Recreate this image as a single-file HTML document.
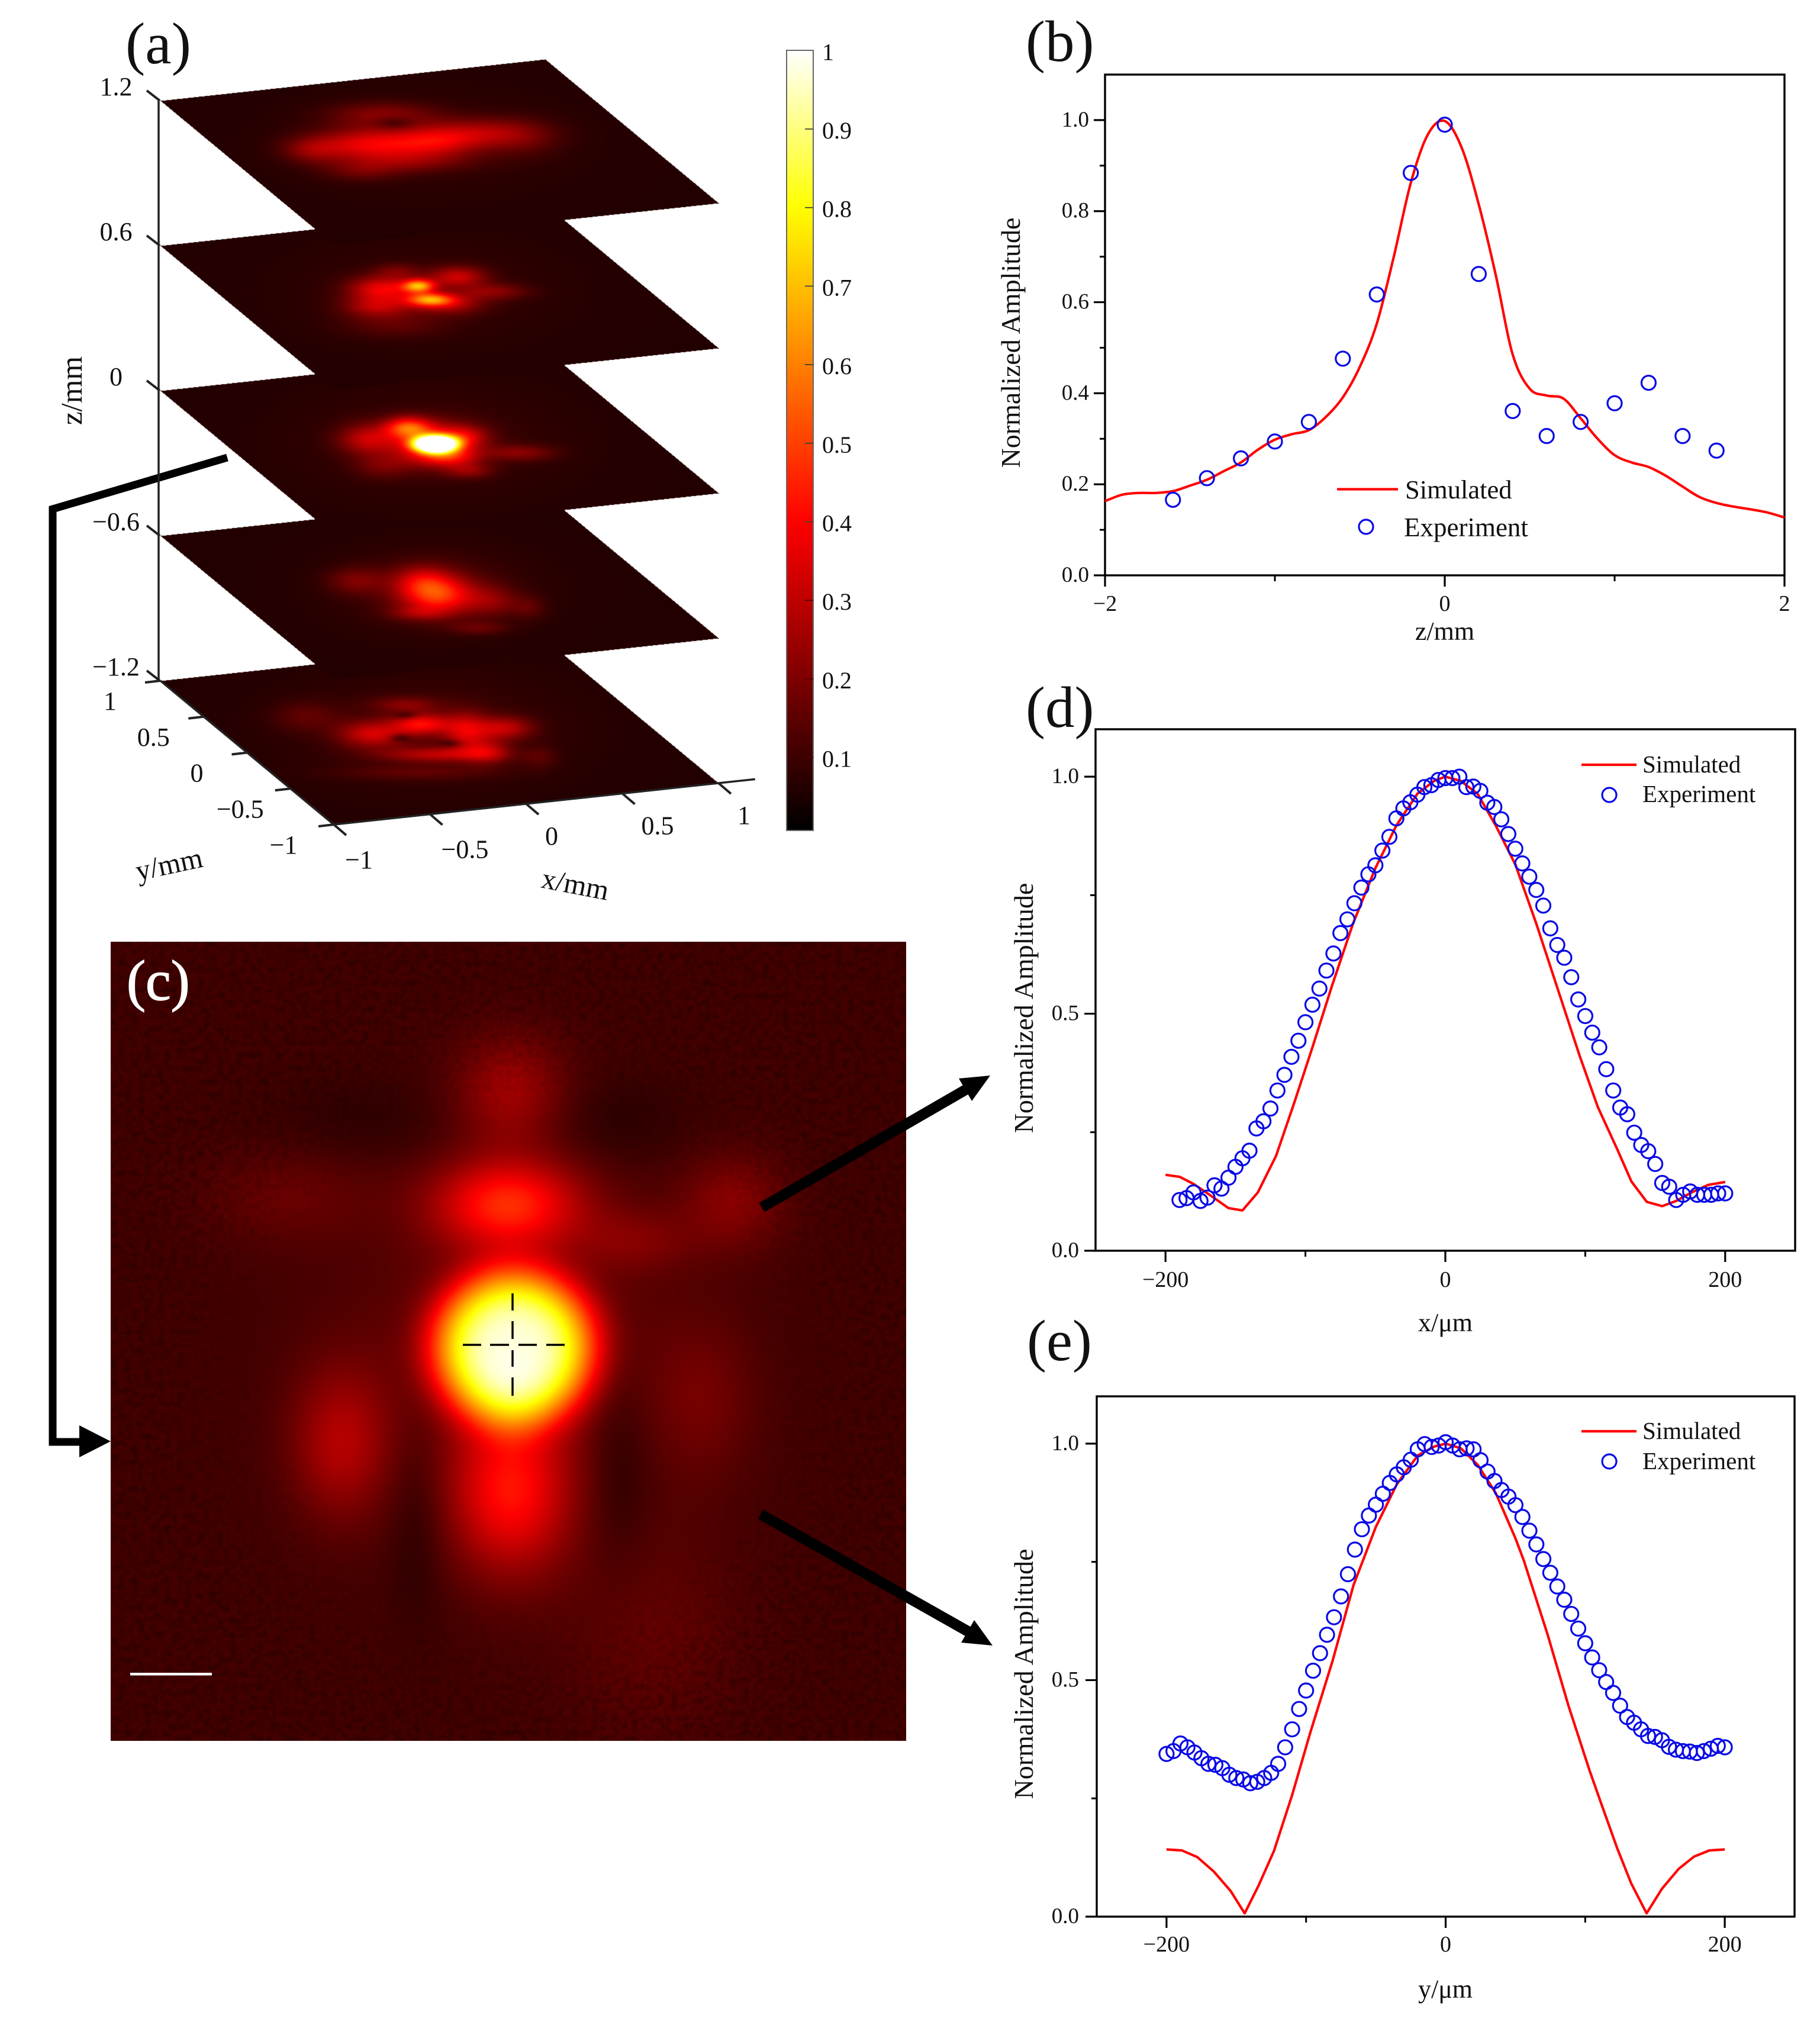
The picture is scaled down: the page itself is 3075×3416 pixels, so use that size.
<!DOCTYPE html>
<html lang="en">
<head>
<meta charset="utf-8">
<title>Focused beam amplitude profiles</title>
<style>
html,body{margin:0;padding:0;background:#fff;}
#figure{position:relative;width:3075px;height:3416px;overflow:hidden;background:#fff;font-family:"Liberation Serif",serif;}
canvas{position:absolute;display:block;}
#overlay{position:absolute;left:0;top:0;}
text{font-family:"Liberation Serif",serif;fill:#111;}
</style>
</head>
<body>
<div id="figure">
<canvas id="focal-map" width="672" height="675" style="left:187px;top:1591px;width:1344px;height:1350px"></canvas>
<div id="slices"></div>
<svg id="overlay" xmlns="http://www.w3.org/2000/svg" width="3075" height="3416" viewBox="0 0 3075 3416">
<defs>
<linearGradient id="cbar-grad" x1="0" y1="0" x2="0" y2="1">
<stop offset="0" stop-color="#ffffff"/>
<stop offset="0.201" stop-color="#ffff00"/>
<stop offset="0.604" stop-color="#ff0000"/>
<stop offset="1" stop-color="#000000"/>
</linearGradient>
<filter id="grain" x="0" y="0" width="1" height="1" color-interpolation-filters="sRGB">
<feTurbulence type="fractalNoise" baseFrequency="0.09" numOctaves="2" seed="4"/>
<feColorMatrix type="matrix" values="0 0 0 0 0  0 0 0 0 0  0 0 0 0 0  2.6 0 0 0 -1.05"/>
</filter>
<radialGradient id="grain-fade" gradientUnits="userSpaceOnUse" cx="868" cy="2300" r="700">
<stop offset="0.55" stop-color="#000"/>
<stop offset="0.9" stop-color="#fff"/>
</radialGradient>
<mask id="grain-mask" maskUnits="userSpaceOnUse" x="187" y="1591" width="1344" height="1350">
<rect x="187" y="1591" width="1344" height="1350" fill="url(#grain-fade)"/>
</mask>
</defs>

<g mask="url(#grain-mask)">
<rect x="187" y="1591" width="1344" height="1350" filter="url(#grain)" opacity="0.3"/>
</g>

<g>
<text x="212" y="107" font-size="100">(a)</text>
<text x="1733" y="103" font-size="99">(b)</text>
<text x="214" y="1689" font-size="96" stroke="#fff" stroke-width="1.5" style="fill:#fff">(c)</text>
<text x="1733" y="1228" font-size="99">(d)</text>
<text x="1735" y="2298" font-size="99">(e)</text>
</g>

<g stroke="#000" stroke-width="3.5">
<path d="M782 2272H813M828 2272H860M876 2272H907M923 2272H954"/>
<path d="M866 2185V2214M866 2232V2262M866 2281V2309M866 2327V2358"/>
</g>
<rect x="220" y="2826" width="138" height="4.5" fill="#fff"/>

<g>
<polyline points="384,773 89,860 89,2436 140,2436" fill="none" stroke="#000" stroke-width="13" stroke-linejoin="miter"/>
<polygon points="134,2408 187,2435 134,2462" fill="#000"/>
<line x1="1287" y1="2040" x2="1635" y2="1839" stroke="#000" stroke-width="18"/>
<polygon points="1673,1817 1642,1860 1620,1822" fill="#000"/>
<line x1="1285" y1="2558" x2="1637" y2="2757" stroke="#000" stroke-width="18"/>
<polygon points="1677,2780 1624,2775 1646,2737" fill="#000"/>
</g>

<g>
<rect x="1329" y="85" width="45" height="1318" fill="url(#cbar-grad)" stroke="#666" stroke-width="2"/>
<g id="cbar-axis"></g>
</g>

<g id="axes3d"></g>
<text transform="translate(138,660) rotate(-90)" text-anchor="middle" font-size="51">z/mm</text>
<text transform="translate(289,1476) rotate(-12)" text-anchor="middle" font-size="49">y/mm</text>
<text transform="translate(969,1510) rotate(11)" text-anchor="middle" font-size="49">x/mm</text>

<g id="panel-b"></g>
<g>
<line x1="2259" y1="826.5" x2="2362" y2="826.5" stroke="#f00" stroke-width="4.2"/>
<text x="2374" y="842" font-size="44.5">Simulated</text>
<circle cx="2308" cy="890" r="12" fill="none" stroke="#0a0ae6" stroke-width="3.2"/>
<text x="2372" y="906" font-size="45">Experiment</text>
</g>
<text x="2441" y="1081" text-anchor="middle" font-size="44">z/mm</text>
<text transform="translate(1723,579) rotate(-90)" text-anchor="middle" font-size="46">Normalized Amplitude</text>

<g id="panel-d"></g>
<g>
<line x1="2672" y1="1292" x2="2765" y2="1292" stroke="#f00" stroke-width="4.2"/>
<text x="2775" y="1305" font-size="41">Simulated</text>
<circle cx="2719" cy="1343" r="12" fill="none" stroke="#0a0ae6" stroke-width="3.2"/>
<text x="2775" y="1355" font-size="41">Experiment</text>
</g>
<text x="2442" y="2249" text-anchor="middle" font-size="44">x/μm</text>
<text transform="translate(1745,1703) rotate(-90)" text-anchor="middle" font-size="46">Normalized Amplitude</text>

<g id="panel-e"></g>
<g>
<line x1="2672" y1="2418" x2="2765" y2="2418" stroke="#f00" stroke-width="4.2"/>
<text x="2775" y="2431" font-size="41">Simulated</text>
<circle cx="2719" cy="2469" r="12" fill="none" stroke="#0a0ae6" stroke-width="3.2"/>
<text x="2775" y="2482" font-size="41">Experiment</text>
</g>
<text x="2442" y="3375" text-anchor="middle" font-size="44">y/μm</text>
<text transform="translate(1745,2828) rotate(-90)" text-anchor="middle" font-size="46">Normalized Amplitude</text>
</svg>
</div>

<script>
/* ---------- panel (b): amplitude vs z ---------- */
const bSimZ = [-2,-1.9,-1.8,-1.7,-1.6,-1.5,-1.4,-1.3,-1.2,-1.1,-1,-0.9,-0.8,-0.7,-0.6,-0.5,-0.4,-0.3,-0.2,-0.1,0,0.1,0.2,0.3,0.4,0.5,0.6,0.7,0.8,0.9,1,1.1,1.2,1.3,1.4,1.5,1.6,1.7,1.8,1.9,2];
const bSimAmp = [0.163,0.177,0.181,0.181,0.185,0.197,0.21,0.229,0.248,0.276,0.298,0.31,0.319,0.348,0.391,0.458,0.553,0.70,0.862,0.968,0.998,0.939,0.815,0.66,0.485,0.41,0.395,0.388,0.345,0.30,0.264,0.248,0.238,0.219,0.195,0.172,0.159,0.151,0.145,0.138,0.127];
const bExpZ = [-1.6,-1.4,-1.2,-1,-0.8,-0.6,-0.4,-0.2,0,0.2,0.4,0.6,0.8,1,1.2,1.4,1.6];
const bExpAmp = [0.166,0.2135,0.257,0.294,0.337,0.476,0.617,0.884,0.99,0.662,0.361,0.306,0.337,0.378,0.423,0.306,0.274];
const bXMajor = [-2,0,2];
const bXMinor = [-1,1];
const bXLabels = ['−2','0','2'];
const bYMajor = [0,0.2,0.4,0.6,0.8,1];
const bYMinor = [0.1,0.3,0.5,0.7,0.9];
const bYLabels = ['0.0','0.2','0.4','0.6','0.8','1.0'];

/* ---------- panel (d): amplitude vs x ---------- */
const dSimX = [-200,-190,-180,-169,-155,-145,-134,-121,-108,-95,-81,-66,-50,-35,-20,-8,0,11,23,36,50,65,80,96,109,123,133,144,155,165,176,188,200];
const dSimAmp = [0.16,0.156,0.141,0.119,0.09,0.085,0.123,0.2,0.312,0.429,0.559,0.69,0.807,0.897,0.964,0.991,1,0.991,0.964,0.897,0.815,0.69,0.555,0.411,0.303,0.213,0.146,0.103,0.094,0.105,0.123,0.139,0.145];
const dExpX = [-190,-185,-180,-175,-170,-165,-160,-155,-150,-145,-140,-135,-130,-125,-120,-115,-110,-105,-100,-95,-90,-85,-80,-75,-70,-65,-60,-55,-50,-45,-40,-35,-30,-25,-20,-15,-10,-5,0,5,10,15,20,25,30,35,40,45,50,55,60,65,70,75,80,85,90,95,100,105,110,115,120,125,130,135,140,145,150,155,160,165,170,175,180,185,190,195,200];
const dExpAmp = [0.107,0.111,0.123,0.105,0.112,0.138,0.131,0.154,0.177,0.195,0.211,0.258,0.273,0.300,0.338,0.371,0.409,0.443,0.482,0.519,0.553,0.591,0.627,0.670,0.699,0.733,0.766,0.794,0.813,0.844,0.873,0.912,0.933,0.946,0.962,0.978,0.982,0.993,0.997,0.997,1.0,0.978,0.979,0.970,0.945,0.936,0.910,0.879,0.848,0.817,0.789,0.761,0.728,0.680,0.645,0.618,0.577,0.530,0.495,0.460,0.429,0.383,0.338,0.302,0.288,0.249,0.223,0.210,0.183,0.143,0.135,0.107,0.118,0.125,0.118,0.118,0.118,0.121,0.121];

/* ---------- panel (e): amplitude vs y ---------- */
const eSimY = [-200,-189,-178,-166,-154,-144,-134,-123,-110,-97,-81,-66,-50,-35,-20,-8,0,11,23,36,50,56,73,88,103,111,123,133,144,155,167,178,189,200];
const eSimAmp = [0.142,0.14,0.126,0.095,0.054,0.007,0.066,0.139,0.257,0.389,0.541,0.701,0.824,0.914,0.975,0.994,1,0.99,0.955,0.895,0.80,0.753,0.597,0.446,0.31,0.243,0.144,0.07,0.007,0.059,0.101,0.127,0.14,0.142];
const eExpY = [-200,-195,-190,-185,-180,-175,-170,-165,-160,-155,-150,-145,-140,-135,-130,-125,-120,-115,-110,-105,-100,-95,-90,-85,-80,-75,-70,-65,-60,-55,-50,-45,-40,-35,-30,-25,-20,-15,-10,-5,0,5,10,15,20,25,30,35,40,45,50,55,60,65,70,75,80,85,90,95,100,105,110,115,120,125,130,135,140,145,150,155,160,165,170,175,180,185,190,195,200];
const eExpAmp = [0.344,0.350,0.366,0.358,0.347,0.335,0.323,0.321,0.314,0.300,0.293,0.290,0.282,0.285,0.293,0.304,0.323,0.358,0.396,0.439,0.478,0.520,0.557,0.596,0.633,0.677,0.724,0.776,0.819,0.848,0.871,0.894,0.917,0.935,0.950,0.966,0.988,0.999,0.993,0.996,1.003,0.996,0.988,0.990,0.988,0.965,0.941,0.921,0.902,0.888,0.870,0.845,0.816,0.787,0.756,0.727,0.698,0.670,0.640,0.609,0.578,0.548,0.521,0.496,0.473,0.446,0.422,0.410,0.396,0.382,0.380,0.373,0.359,0.353,0.350,0.349,0.346,0.350,0.355,0.361,0.358];

/* shared profile axes for (d) and (e) */
const profileXMajor = [-200,0,200];
const profileXMinor = [-100,100];
const profileXLabels = ['−200','0','200'];
const profileYMajor = [0,0.5,1];
const profileYMinor = [0.25,0.75];
const profileYLabels = ['0.0','0.5','1.0'];

/* ---------- panel (a): stack axes and colorbar ---------- */
const stackZTicks = [1.2,0.6,0,-0.6,-1.2];
const stackZLabels = ['1.2','0.6','0','−0.6','−1.2'];
const stackXTicks = [-1,-0.5,0,0.5,1];
const stackXLabels = ['−1','−0.5','0','0.5','1'];
const stackYTicks = [1,0.5,0,-0.5,-1];
const stackYLabels = ['1','0.5','0','−0.5','−1'];
const colorbarTicks = [1,0.9,0.8,0.7,0.6,0.5,0.4,0.3,0.2,0.1];
const colorbarLabels = ['1','0.9','0.8','0.7','0.6','0.5','0.4','0.3','0.2','0.1'];

/* Intensity features: [centre u, centre v, spread u, spread v, amplitude, shape exponent] in map fractions */
const sliceBase = [0.055,0.055,0.055,0.055,0.055];
const slicePos12Features = [
 [0.379,0.459,0.105,0.085,0.3,2],[0.497,0.443,0.075,0.08,0.2,2],[0.575,0.396,0.095,0.075,0.16,2],
 [0.644,0.427,0.07,0.1,0.08,2],[0.27,0.49,0.05,0.065,0.12,2],[0.398,0.30,0.095,0.065,0.14,2],
 [0.447,0.554,0.11,0.055,0.1,2],[0.359,0.60,0.07,0.055,0.09,2],[0.418,0.342,0.035,0.035,-0.1,2],
 [0.47,0.45,0.24,0.26,0.025,2]];
const slicePos06Features = [
 [0.462,0.44,0.028,0.035,0.52,2],[0.482,0.513,0.04,0.035,0.46,2],[0.398,0.456,0.06,0.065,0.3,2],
 [0.388,0.55,0.06,0.055,0.2,2],[0.531,0.392,0.05,0.055,0.24,2],[0.516,0.535,0.06,0.055,0.2,2],
 [0.595,0.47,0.06,0.042,0.14,2],[0.423,0.36,0.04,0.04,0.1,2],[0.418,0.645,0.09,0.07,0.08,2],
 [0.47,0.47,0.22,0.26,0.03,2]];
const sliceZeroFeatures = [
 [0.492,0.51,0.043,0.05,0.82,3],[0.49,0.51,0.07,0.1,0.42,2],[0.442,0.421,0.04,0.055,0.38,2],
 [0.369,0.484,0.05,0.08,0.22,2],[0.516,0.58,0.05,0.045,0.2,2],[0.551,0.652,0.042,0.04,0.14,2],
 [0.644,0.557,0.06,0.042,0.14,2],[0.398,0.627,0.05,0.065,0.1,2],[0.545,0.468,0.04,0.055,0.15,2],
 [0.48,0.5,0.22,0.28,0.04,2]];
const sliceNeg06Features = [
 [0.497,0.544,0.065,0.1,0.36,2],[0.467,0.465,0.05,0.08,0.18,2],[0.35,0.465,0.05,0.07,0.12,2],
 [0.595,0.576,0.045,0.08,0.12,2],[0.659,0.61,0.03,0.06,0.08,2],[0.57,0.72,0.05,0.035,0.09,2],
 [0.457,0.64,0.05,0.035,0.1,2],[0.487,0.513,0.15,0.2,0.07,2]];
const sliceNeg12Features = [
 [0.467,0.456,0.05,0.055,0.3,2],[0.379,0.51,0.06,0.07,0.24,2],[0.546,0.494,0.04,0.1,0.24,2],
 [0.615,0.478,0.05,0.06,0.22,2],[0.496,0.62,0.1,0.04,0.2,2],[0.585,0.604,0.04,0.065,0.18,2],
 [0.438,0.351,0.06,0.04,0.12,2],[0.26,0.415,0.06,0.08,0.08,2],[0.678,0.636,0.03,0.06,0.07,2],
 [0.458,0.715,0.14,0.04,0.07,2],[0.477,0.494,0.22,0.28,0.05,2],[0.429,0.53,0.018,0.02,-0.12,2],
 [0.44,0.41,0.02,0.02,-0.1,2],[0.52,0.56,0.02,0.02,-0.1,2]];

/* Panel (c) focal-plane intensity */
const focalBase = 0.105;
const focalFeatures = [
 [0.507,0.5075,0.103,0.098,0.76,3.7],[0.507,0.5075,0.16,0.15,0.1,2],
 [0.503,0.189,0.07,0.07,0.15,2],[0.4996,0.329,0.092,0.056,0.34,2],
 [0.503,0.69,0.075,0.1,0.3,2],[0.29,0.627,0.062,0.095,0.17,2],
 [0.781,0.326,0.065,0.06,0.11,2],[0.226,0.319,0.105,0.06,0.06,2],
 [0.745,0.573,0.065,0.1,0.07,2],[0.66,0.374,0.07,0.04,0.08,2],
 [0.681,0.86,0.11,0.14,0.05,2],
 [0.386,0.723,0.035,0.13,-0.045,2],[0.638,0.655,0.04,0.13,-0.05,2],
 [0.631,0.223,0.1,0.055,-0.035,2],[0.318,0.223,0.12,0.055,-0.03,2]];

const SVG_NS = 'http://www.w3.org/2000/svg';

function svgEl(parent, tag, attrs, content) {
  const node = document.createElementNS(SVG_NS, tag);
  for (const key in attrs) node.setAttribute(key, attrs[key]);
  if (content !== undefined) node.textContent = content;
  parent.appendChild(node);
  return node;
}

function heatColor(v) {
  const clamp = x => x < 0 ? 0 : x > 1 ? 1 : x;
  return [255 * clamp(v / 0.4), 255 * clamp((v - 0.4) / 0.4), 255 * clamp((v - 0.8) / 0.2)];
}

function fieldAt(features, base, u, v) {
  let sum = base;
  for (let n = 0; n < features.length; n++) {
    const f = features[n];
    const du = (u - f[0]) / f[2];
    const dv = (v - f[1]) / f[3];
    const d2 = du * du + dv * dv;
    if (d2 > 16) continue;
    sum += f[4] * (f[5] === 2 ? Math.exp(-d2) : Math.exp(-Math.pow(d2, f[5] / 2)));
  }
  return sum;
}

/* Panel (c) heatmap */
(function drawFocalMap() {
  const canvas = document.getElementById('focal-map');
  const ctx = canvas.getContext('2d');
  const img = ctx.createImageData(canvas.width, canvas.height);
  let p = 0;
  for (let j = 0; j < canvas.height; j++) {
    for (let i = 0; i < canvas.width; i++) {
      const c = heatColor(fieldAt(focalFeatures, focalBase, (i + 0.5) / canvas.width, (j + 0.5) / canvas.height));
      img.data[p++] = c[0];
      img.data[p++] = c[1];
      img.data[p++] = c[2];
      img.data[p++] = 255;
    }
  }
  ctx.putImageData(img, 0, 0);
})();

/* Panel (a) geometry: one parallelogram per z level */
const stack = {
  left: [271, 170], front: [564, 413], right: [1214, 343],
  boxLeft: 271, boxTop: 99, boxW: 944, boxH: 315, step: 245
};
function zToY(z) { return stack.left[1] + (1.2 - z) / 0.6 * stack.step; }
function floorPoint(x, y) {
  const a = (x + 1) / 2, b = (y + 1) / 2;
  const floorShift = zToY(-1.2) - stack.left[1];
  return [
    stack.front[0] + a * (stack.right[0] - stack.front[0]) + b * (stack.left[0] - stack.front[0]),
    stack.front[1] + floorShift + a * (stack.right[1] - stack.front[1]) + b * (stack.left[1] - stack.front[1])
  ];
}

function drawSlice(features, base, index, name) {
  const canvas = document.createElement('canvas');
  canvas.width = stack.boxW;
  canvas.height = stack.boxH;
  canvas.style.left = stack.boxLeft + 'px';
  canvas.style.top = (stack.boxTop + index * stack.step) + 'px';
  
  
  document.getElementById('slices').appendChild(canvas);
  const ctx = canvas.getContext('2d');
  const img = ctx.createImageData(canvas.width, canvas.height);
  const rx = stack.right[0] - stack.front[0], ry = stack.right[1] - stack.front[1];
  const lx = stack.left[0] - stack.front[0], ly = stack.left[1] - stack.front[1];
  const det = rx * ly - lx * ry;
  for (let j = 0; j < canvas.height; j++) {
    for (let i = 0; i < canvas.width; i++) {
      const dx = stack.boxLeft + i - stack.front[0];
      const dy = stack.boxTop + j - stack.front[1];
      const a = (dx * ly - lx * dy) / det;
      const b = (rx * dy - ry * dx) / det;
      if (a < 0 || a > 1 || b < 0 || b > 1) continue;
      const c = heatColor(fieldAt(features, base, i / canvas.width, j / canvas.height));
      const p = (j * canvas.width + i) * 4;
      img.data[p] = c[0];
      img.data[p + 1] = c[1];
      img.data[p + 2] = c[2];
      img.data[p + 3] = 255;
    }
  }
  ctx.putImageData(img, 0, 0);
}
drawSlice(sliceNeg12Features, sliceBase[4], 4, 'slice-z-minus-1-2');
drawSlice(sliceNeg06Features, sliceBase[3], 3, 'slice-z-minus-0-6');
drawSlice(sliceZeroFeatures, sliceBase[2], 2, 'slice-z-0');
drawSlice(slicePos06Features, sliceBase[1], 1, 'slice-z-0-6');
drawSlice(slicePos12Features, sliceBase[0], 0, 'slice-z-1-2');

/* Panel (a) axes */
(function drawStackAxes() {
  const g = document.getElementById('axes3d');
  const stroke = '#222';
  const zLine = svgEl(g, 'line', {x1: 268, y1: zToY(1.2), x2: 268, y2: zToY(-1.2), stroke: stroke, 'stroke-width': 3.5});
  
  
  stackZTicks.forEach(function (z, i) {
    const y = zToY(z);
    const tick = svgEl(g, 'line', {x1: 248, y1: y - 17, x2: 270, y2: y, stroke: stroke, 'stroke-width': 4});
    
    
    const label = svgEl(g, 'text', {x: 196, y: y - 9, 'text-anchor': 'middle', 'font-size': 44}, stackZLabels[i]);
    
    
  });
  const xStart = floorPoint(-1, -1), xEnd = floorPoint(1.19, -1);
  const xLine = svgEl(g, 'line', {x1: xStart[0], y1: xStart[1], x2: xEnd[0], y2: xEnd[1], stroke: stroke, 'stroke-width': 3.5});
  
  
  const yStart = floorPoint(-1, 1), yEnd = floorPoint(-1, -1);
  const yLine = svgEl(g, 'line', {x1: yStart[0], y1: yStart[1], x2: yEnd[0], y2: yEnd[1], stroke: stroke, 'stroke-width': 3.5});
  
  
  stackXTicks.forEach(function (x, i) {
    const p = floorPoint(x, -1);
    const tick = svgEl(g, 'line', {x1: p[0], y1: p[1], x2: p[0] + 21, y2: p[1] + 18, stroke: stroke, 'stroke-width': 4});
    
    
    const neg = x < 0;
    const label = svgEl(g, 'text', {x: p[0] + (neg ? 19 : 32), y: p[1] + (neg ? 74 : 69), 'font-size': 44}, stackXLabels[i]);
    
    
  });
  stackYTicks.forEach(function (y, i) {
    const p = floorPoint(-1, y);
    const tick = svgEl(g, 'line', {x1: p[0], y1: p[1], x2: p[0] - 26, y2: p[1] + 3, stroke: stroke, 'stroke-width': 4});
    
    
    const label = svgEl(g, 'text', {x: p[0] - 85, y: p[1] + 49, 'text-anchor': 'middle', 'font-size': 44}, stackYLabels[i]);
    
    
  });
})();

/* Colorbar ticks */
(function drawColorbarAxis() {
  const g = document.getElementById('cbar-axis');
  const valueToY = v => 85.3 + (1 - v) * 1327;
  colorbarTicks.forEach(function (v, i) {
    const y = valueToY(v);
    if (v < 1) {
      const tick = svgEl(g, 'line', {x1: 1360, y1: y, x2: 1374, y2: y, stroke: v < 0.35 ? '#500' : '#443', 'stroke-width': 1.8});
      
      
    }
    const label = svgEl(g, 'text', {x: 1389, y: y + 16, 'font-size': 40}, colorbarLabels[i]);
    
    
  });
})();

/* Smooth path through data points */
function smoothPath(pts) {
  let d = 'M' + pts[0][0] + ' ' + pts[0][1];
  for (let i = 0; i < pts.length - 1; i++) {
    const p0 = pts[Math.max(0, i - 1)], p1 = pts[i], p2 = pts[i + 1], p3 = pts[Math.min(pts.length - 1, i + 2)];
    d += ' C' + (p1[0] + (p2[0] - p0[0]) / 6) + ' ' + (p1[1] + (p2[1] - p0[1]) / 6) + ' ' +
         (p2[0] - (p3[0] - p1[0]) / 6) + ' ' + (p2[1] - (p3[1] - p1[1]) / 6) + ' ' + p2[0] + ' ' + p2[1];
  }
  return d;
}
function straightPath(pts) {
  return pts.map((p, i) => (i ? 'L' : 'M') + p[0] + ' ' + p[1]).join(' ');
}

function drawProfile(cfg) {
  const g = document.getElementById(cfg.id);
  const xScale = v => cfg.left + (v - cfg.xMin) / (cfg.xMax - cfg.xMin) * (cfg.right - cfg.left);
  const yScale = v => cfg.bottom - v / cfg.yMax * (cfg.bottom - cfg.top);

  const frame = svgEl(g, 'rect', {x: cfg.left, y: cfg.top, width: cfg.right - cfg.left, height: cfg.bottom - cfg.top, fill: 'none', stroke: '#000', 'stroke-width': 3.4});
  
  

  cfg.yMajor.forEach(function (v, i) {
    const tick = svgEl(g, 'line', {x1: cfg.left - cfg.majorLen, y1: yScale(v), x2: cfg.left, y2: yScale(v), stroke: '#000', 'stroke-width': 3.2});
    
    
    const label = svgEl(g, 'text', {x: cfg.yLabelX, y: yScale(v) + 11, 'text-anchor': 'end', 'font-size': 37}, cfg.yLabels[i]);
    
    
  });
  cfg.yMinor.forEach(function (v) {
    const tick = svgEl(g, 'line', {x1: cfg.left - 9, y1: yScale(v), x2: cfg.left, y2: yScale(v), stroke: '#000', 'stroke-width': 3});
    
    
  });
  cfg.xMajor.forEach(function (v, i) {
    const tick = svgEl(g, 'line', {x1: xScale(v), y1: cfg.bottom, x2: xScale(v), y2: cfg.bottom + cfg.majorLen, stroke: '#000', 'stroke-width': 3.2});
    
    
    const label = svgEl(g, 'text', {x: xScale(v), y: cfg.xLabelY, 'text-anchor': 'middle', 'font-size': 38}, cfg.xLabels[i]);
    
    
  });
  cfg.xMinor.forEach(function (v) {
    const tick = svgEl(g, 'line', {x1: xScale(v), y1: cfg.bottom, x2: xScale(v), y2: cfg.bottom + 10, stroke: '#000', 'stroke-width': 3});
    
    
  });

  const simPts = cfg.simX.map((x, i) => [xScale(x), yScale(cfg.simY[i])]);
  const line = svgEl(g, 'path', {d: cfg.smooth ? smoothPath(simPts) : straightPath(simPts), fill: 'none', stroke: '#f00', 'stroke-width': 4.2, 'stroke-linejoin': 'round'});
  
  

  cfg.expX.forEach(function (x, i) {
    const point = svgEl(g, 'circle', {cx: xScale(x), cy: yScale(cfg.expY[i]), r: 12, fill: 'none', stroke: '#0a0ae6', 'stroke-width': 3.2});
    
    
  });
}

drawProfile({id: 'panel-b', left: 1867, right: 3015, top: 126, bottom: 972, xMin: -2, xMax: 2, yMax: 1.1, majorLen: 19, yLabelX: 1840, xLabelY: 1032, smooth: true,
  xMajor: bXMajor, xMinor: bXMinor, xLabels: bXLabels, yMajor: bYMajor, yMinor: bYMinor, yLabels: bYLabels,
  simX: bSimZ, simY: bSimAmp, expX: bExpZ, expY: bExpAmp});
drawProfile({id: 'panel-d', left: 1851, right: 3033, top: 1232, bottom: 2113, xMin: -250, xMax: 250, yMax: 1.1, majorLen: 19, yLabelX: 1823, xLabelY: 2174, smooth: false,
  xMajor: profileXMajor, xMinor: profileXMinor, xLabels: profileXLabels, yMajor: profileYMajor, yMinor: profileYMinor, yLabels: profileYLabels,
  simX: dSimX, simY: dSimAmp, expX: dExpX, expY: dExpAmp});
drawProfile({id: 'panel-e', left: 1853, right: 3032, top: 2359, bottom: 3238, xMin: -250, xMax: 250, yMax: 1.1, majorLen: 19, yLabelX: 1823, xLabelY: 3297, smooth: false,
  xMajor: profileXMajor, xMinor: profileXMinor, xLabels: profileXLabels, yMajor: profileYMajor, yMinor: profileYMinor, yLabels: profileYLabels,
  simX: eSimY, simY: eSimAmp, expX: eExpY, expY: eExpAmp});
</script>
</body>
</html>
